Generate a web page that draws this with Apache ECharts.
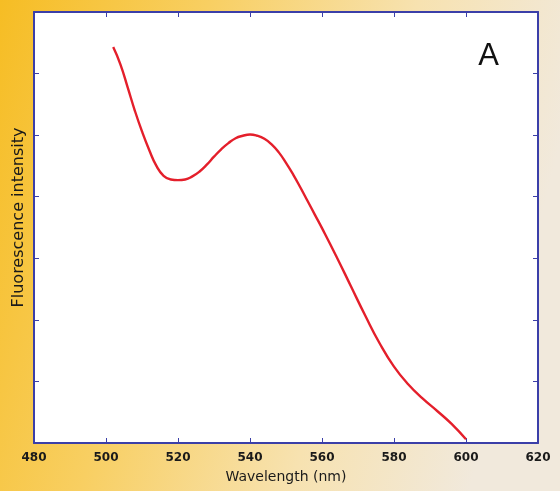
<!DOCTYPE html>
<html>
<head>
<meta charset="utf-8">
<script src="https://cdn.jsdelivr.net/npm/echarts@6/dist/echarts.min.js"></script>
<style>
  html, body { margin: 0; padding: 0; }
  #chart { width: 560px; height: 491px; }
</style>
</head>
<body>
<div id="chart"></div>
<script>
// Emission spectrum: wavelength (nm) vs. fluorescence intensity (arbitrary units)
const wavelength = [502, 504, 506, 508, 510, 512, 514, 516, 518, 520,
                    522, 524, 526, 528, 530, 532, 534, 536, 538, 540,
                    542, 544, 546, 548, 550, 552, 554, 556, 558, 560,
                    564, 568, 572, 576, 580, 584, 588, 592, 596, 600];
const intensity  = [6.43, 6.15, 5.78, 5.40, 5.06, 4.76, 4.50, 4.34, 4.28, 4.27,
                    4.28, 4.33, 4.41, 4.52, 4.65, 4.77, 4.87, 4.95, 4.99, 5.01,
                    4.99, 4.94, 4.85, 4.72, 4.55, 4.36, 4.15, 3.93, 3.71, 3.49,
                    3.03, 2.55, 2.07, 1.62, 1.24, 0.95, 0.72, 0.52, 0.31, 0.06];
const xTicks = [480, 500, 520, 540, 560, 580, 600, 620];
const panelLabel = 'A';

const axisBlue = '#3b3fa8';
const textFont = 'DejaVu Sans';
const chart = echarts.init(document.getElementById('chart'));

const xBase = {
  type: 'value', min: xTicks[0], max: xTicks[xTicks.length - 1], interval: 20,
  axisLine: { show: true, onZero: false, lineStyle: { color: axisBlue, width: 2 } },
  axisTick: { show: true, inside: true, length: 5, lineStyle: { color: axisBlue } },
  splitLine: { show: false }
};
const yBase = {
  type: 'value', min: 0, max: 7, interval: 1,
  axisLine: { show: true, onZero: false, lineStyle: { color: axisBlue, width: 2 } },
  axisTick: { show: true, inside: true, length: 5, lineStyle: { color: axisBlue } },
  axisLabel: { show: false },
  splitLine: { show: false }
};

chart.setOption({
  backgroundColor: new echarts.graphic.LinearGradient(0, 0, 1, 0.3, [
    { offset: 0, color: '#f6bd24' },
    { offset: 0.35, color: '#f8cf62' },
    { offset: 0.7, color: '#f7e2b0' },
    { offset: 1, color: '#f1e9dc' }
  ]),
  animation: false,
  grid: { left: 34, top: 12, right: 22, bottom: 48, show: true, backgroundColor: '#ffffff', borderWidth: 0 },
  title: {
    text: panelLabel, right: 56, top: 36,
    textStyle: { fontFamily: 'Liberation Sans', fontSize: 31, fontWeight: 'normal', color: '#111' }
  },
  xAxis: [
    Object.assign({}, xBase, {
      position: 'bottom',
      name: 'Wavelength (nm)', nameLocation: 'middle', nameGap: 27,
      nameTextStyle: { fontFamily: textFont, fontSize: 14, color: '#1a1a1a' },
      axisLabel: { show: true, margin: 9, fontFamily: textFont, fontSize: 12, fontWeight: 'bold', color: '#1a1a1a' }
    }),
    Object.assign({}, xBase, { position: 'top', axisLabel: { show: false } })
  ],
  yAxis: [
    Object.assign({}, yBase, {
      position: 'left',
      name: 'Fluorescence intensity', nameLocation: 'middle', nameGap: 7,
      nameTextStyle: { fontFamily: textFont, fontSize: 16, color: '#1a1a1a', padding: [0, 0, 0, 20] }
    }),
    Object.assign({}, yBase, { position: 'right' })
  ],
  series: [{
    type: 'line',
    data: wavelength.map((w, i) => [w, intensity[i]]),
    smooth: 0.5,
    showSymbol: false,
    lineStyle: { color: '#e41f2b', width: 2.4 }
  }]
});
</script>
</body>
</html>
